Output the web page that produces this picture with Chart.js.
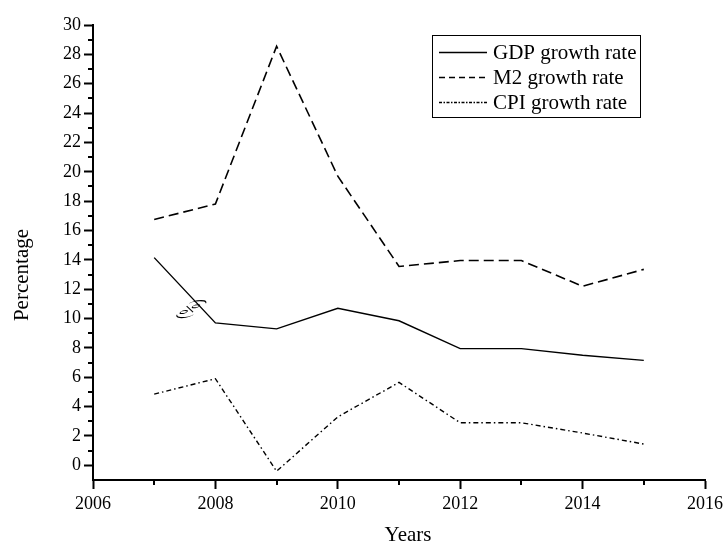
<!DOCTYPE html>
<html>
<head>
<meta charset="utf-8">
<title>GDP, M2 and CPI growth rates</title>
<script src="https://cdn.jsdelivr.net/npm/chart.js@4/dist/chart.umd.min.js"></script>
<style>
  html, body { margin: 0; padding: 0; background: #fff; }
  #wrap { width: 727px; height: 544px; position: relative; }
</style>
</head>
<body>
<div id="wrap"><canvas id="chart" width="727" height="544"></canvas></div>
<script>
// Annual growth rates (%)
const years = [2007, 2008, 2009, 2010, 2011, 2012, 2013, 2014, 2015];
const gdpGrowth = [14.15, 9.7, 9.3, 10.7, 9.85, 7.95, 7.95, 7.5, 7.15];
const m2Growth = [16.75, 17.8, 28.55, 19.7, 13.55, 13.95, 13.95, 12.2, 13.35];
const cpiGrowth = [4.85, 5.9, -0.4, 3.3, 5.65, 2.9, 2.9, 2.2, 1.45];

const seriesNames = ['GDP growth rate', 'M2 growth rate', 'CPI growth rate'];

// Axis ticks
const xTickValues = [2006, 2008, 2010, 2012, 2014, 2016];
const xMinorValues = [2007, 2009, 2011, 2013, 2015];
const yTickValues = [0, 2, 4, 6, 8, 10, 12, 14, 16, 18, 20, 22, 24, 26, 28, 30];
const yMinorValues = [1, 3, 5, 7, 9, 11, 13, 15, 17, 19, 21, 23, 25, 27, 29];

// Stray unit note beside the GDP line
const unitNote = '(%)';
const unitNoteAt = [2007.6, 10.65];

const SERIF = '"Liberation Serif", "Times New Roman", serif';

const toPoints = vals => years.map((y, i) => ({ x: y, y: vals[i] }));

const minorTicks = {
  id: 'minorTicks',
  afterDraw(chart) {
    const { ctx, scales: { x, y } } = chart;
    ctx.save();
    ctx.strokeStyle = '#000';
    ctx.lineWidth = 2;
    ctx.beginPath();
    const axisY = y.right;
    yMinorValues.forEach(v => {
      const py = Math.round(y.getPixelForValue(v));
      ctx.moveTo(axisY, py);
      ctx.lineTo(axisY - 5, py);
    });
    const axisX = x.top;
    xMinorValues.forEach(v => {
      const px = Math.round(x.getPixelForValue(v));
      ctx.moveTo(px, axisX);
      ctx.lineTo(px, axisX + 5);
    });
    ctx.stroke();
    ctx.restore();
  }
};

const boxedLegend = {
  id: 'boxedLegend',
  afterDraw(chart) {
    const ctx = chart.ctx;
    ctx.save();
    ctx.strokeStyle = '#000';
    ctx.lineWidth = 1;
    ctx.setLineDash([]);
    ctx.strokeRect(432.5, 35.5, 208, 82);
    ctx.font = '21px ' + SERIF;
    ctx.fillStyle = '#000';
    ctx.textAlign = 'left';
    ctx.textBaseline = 'middle';
    chart.data.datasets.forEach((ds, i) => {
      const ry = 52.5 + 25 * i;
      ctx.beginPath();
      ctx.setLineDash(ds.legendDash || []);
      ctx.lineWidth = ds.borderWidth;
      ctx.moveTo(439, ry);
      ctx.lineTo(487, ry);
      ctx.stroke();
      ctx.setLineDash([]);
      ctx.fillText(ds.label, 493, ry + 1);
    });
    ctx.restore();
  }
};

const axisTitles = {
  id: 'axisTitles',
  afterDraw(chart) {
    const { ctx, scales: { x, y } } = chart;
    ctx.save();
    ctx.fillStyle = '#000';
    ctx.font = '21px ' + SERIF;
    ctx.textAlign = 'center';
    ctx.textBaseline = 'alphabetic';
    ctx.fillText('Years', 408, 541);
    ctx.translate(27.5, 275);
    ctx.rotate(-Math.PI / 2);
    ctx.fillText('Percentage', 0, 0);
    ctx.restore();

    // unit note, glyphs turned upright-left and set along a diagonal
    const px = x.getPixelForValue(unitNoteAt[0]);
    const py = y.getPixelForValue(unitNoteAt[1]);
    ctx.save();
    ctx.setTransform(0.73, -0.68, 1, 0, px, py);
    ctx.font = '19px ' + SERIF;
    ctx.fillStyle = '#000';
    ctx.textAlign = 'center';
    ctx.textBaseline = 'middle';
    ctx.fillText(unitNote, 0, 0);
    ctx.restore();
  }
};

const tickFont = { family: SERIF, size: 18 };

new Chart(document.getElementById('chart'), {
  type: 'line',
  data: {
    datasets: [
      {
        label: seriesNames[0],
        data: toPoints(gdpGrowth),
        borderColor: '#000',
        borderWidth: 1.4,
        borderDash: [],
        legendDash: [],
        pointRadius: 0,
        tension: 0
      },
      {
        label: seriesNames[1],
        data: toPoints(m2Growth),
        borderColor: '#000',
        borderWidth: 1.6,
        borderDash: [10, 5],
        legendDash: [6, 4],
        pointRadius: 0,
        tension: 0
      },
      {
        label: seriesNames[2],
        data: toPoints(cpiGrowth),
        borderColor: '#000',
        borderWidth: 1.4,
        borderDash: [5, 3, 1.5, 3],
        legendDash: [3, 1.5, 1.5, 1.5],
        pointRadius: 0,
        tension: 0
      }
    ]
  },
  options: {
    responsive: false,
    animation: false,
    devicePixelRatio: 1,
    layout: { padding: { left: 0, right: 18, top: 25, bottom: 0 } },
    plugins: {
      legend: { display: false },
      tooltip: { enabled: false }
    },
    scales: {
      x: {
        type: 'linear',
        min: 2006,
        max: 2016,
        afterBuildTicks: s => { s.ticks = xTickValues.map(v => ({ value: v })); },
        afterFit: s => { s.height = 64; },
        border: { display: true, color: '#000', width: 2 },
        grid: { drawOnChartArea: false, drawTicks: true, tickLength: 9, tickWidth: 2, tickColor: '#000', color: '#000' },
        ticks: {
          autoSkip: false,
          maxRotation: 0,
          padding: 4,
          color: '#000',
          font: tickFont,
          callback: v => String(v)
        },
        title: { display: false }
      },
      y: {
        type: 'linear',
        min: -1,
        max: 30,
        afterBuildTicks: s => { s.ticks = yTickValues.map(v => ({ value: v })); },
        afterFit: s => { s.width = 93; },
        border: { display: true, color: '#000', width: 2 },
        grid: { drawOnChartArea: false, drawTicks: true, tickLength: 9, tickWidth: 2, tickColor: '#000', color: '#000' },
        ticks: {
          autoSkip: false,
          padding: 3,
          color: '#000',
          font: tickFont,
          callback: v => String(v)
        },
        title: { display: false }
      }
    }
  },
  plugins: [minorTicks, boxedLegend, axisTitles]
});
</script>
</body>
</html>
